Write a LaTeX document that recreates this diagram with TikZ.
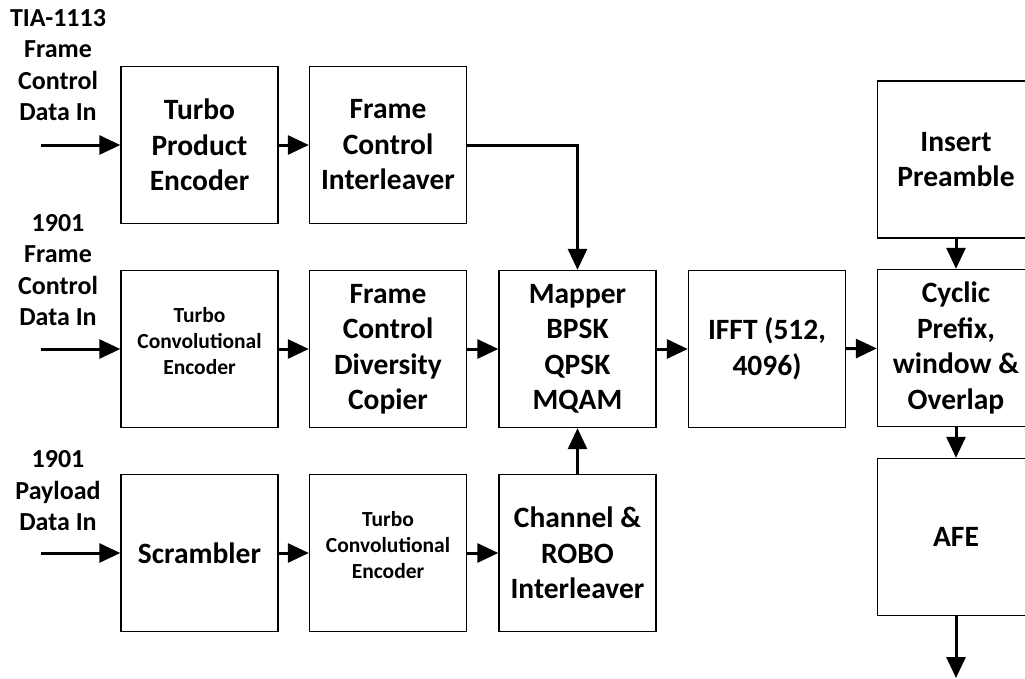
\documentclass[tikz,border=0pt]{standalone}
\usepackage{fontspec}
\setmainfont{Carlito}
\usetikzlibrary{arrows.meta}
\begin{document}
\begin{tikzpicture}[x=1pt,y=-1pt,
  blk/.style={draw, line width=1.4pt, minimum width=157pt, minimum height=157pt,
    inner sep=0pt, align=center, font=\fontsize{29.5}{35.5}\selectfont\bfseries},
  smalltxt/.style={align=center, inner sep=0pt, font=\fontsize{21.5}{26}\selectfont\bfseries},
  lbl/.style={align=center, inner sep=0pt, font=\fontsize{26}{31.5}\selectfont\bfseries},
  flow/.style={-{Triangle[length=21pt,width=19pt]}, line width=3pt}]
\useasboundingbox (0,0) rectangle (1025,678);
\clip (0,0) rectangle (1025,678);

% frame control path (TIA-1113)
\node[blk] (tpe) at (199.5,145) {Turbo\\Product\\Encoder};
\node[blk] (fci) at (388,145) {Frame\\Control\\Interleaver};

% frame control path (1901)
\node[blk] (tce1) at (199.5,349) {};
\node[smalltxt] (tce1t) at ([yshift=8pt]tce1.center) {Turbo\\Convolutional\\Encoder};
\node[blk] (fcd) at (388,349) {Frame\\Control\\Diversity\\Copier};
\node[blk] (map) at (577.5,349) {Mapper\\BPSK\\QPSK\\MQAM};
\node[blk] (ifft) at (767,349) {IFFT (512,\\4096)};

% payload path
\node[blk] (scr) at (199.5,553) {Scrambler};
\node[blk] (tce2) at (388,553) {};
\node[smalltxt] (tce2t) at ([yshift=8pt]tce2.center) {Turbo\\Convolutional\\Encoder};
\node[blk] (chi) at (577.5,553) {Channel \&\\ROBO\\Interleaver};

% output column
\node[blk] (pre) at (956,159.5) {Insert\\Preamble};
\node[blk] (cp) at (956,348) {Cyclic\\Prefix,\\window \&\\Overlap};
\node[blk] (afe) at (956,537) {AFE};

% input labels
\node[lbl] (l1) at (58,65) {TIA-1113\\Frame\\Control\\Data In};
\node[lbl] (l2) at (58,270) {1901\\Frame\\Control\\Data In};
\node[lbl] (l3) at (58,491) {1901\\Payload\\Data In};

\coordinate (in1) at (41,145);
\coordinate (in2) at (41,349);
\coordinate (in3) at (41,553);
\coordinate (out) at (956,678);

% connectors
\draw[flow] (in1) -- (tpe.west);
\draw[flow] (tpe) -- (fci);
\draw[flow] (fci.east) -| (map.north);
\draw[flow] (in2) -- (tce1.west);
\draw[flow] (tce1) -- (fcd);
\draw[flow] (fcd) -- (map);
\draw[flow] (map) -- (ifft);
\draw[flow] (ifft) -- (cp);
\draw[flow] (in3) -- (scr.west);
\draw[flow] (scr) -- (tce2);
\draw[flow] (tce2) -- (chi);
\draw[flow] (chi) -- (map);
\draw[flow] (pre) -- (cp);
\draw[flow] (cp) -- (afe);
\draw[flow] (afe.south) -- (out);
\end{tikzpicture}
\end{document}
